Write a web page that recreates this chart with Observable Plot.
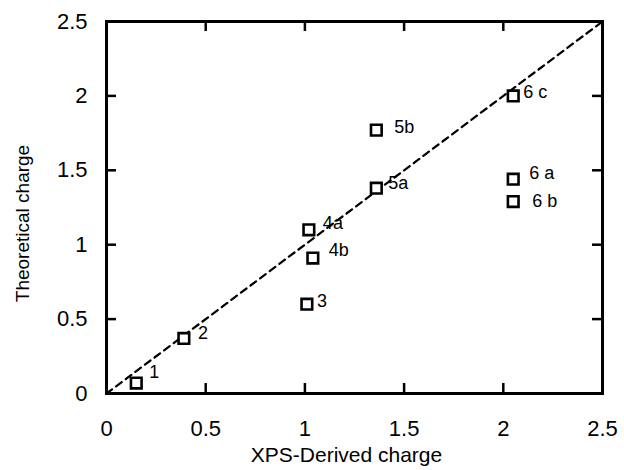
<!DOCTYPE html>
<html>
<head>
<meta charset="utf-8">
<script src="https://cdn.jsdelivr.net/npm/d3@7"></script>
<script src="https://cdn.jsdelivr.net/npm/@observablehq/plot@0.6"></script>
<style>
  html, body { margin: 0; padding: 0; background: #fff; }
  #chart svg { display: block; }
</style>
</head>
<body>
<div id="chart"></div>
<script>
// Data
const labels = ["1", "2", "3", "4a", "4b", "5a", "5b", "6 a", "6 b", "6 c"];
const xpsCharge = [0.15, 0.39, 1.01, 1.02, 1.04, 1.36, 1.36, 2.05, 2.05, 2.05];
const theoCharge = [0.07, 0.37, 0.60, 1.10, 0.91, 1.38, 1.77, 1.44, 1.29, 2.00];
const ticks = [0, 0.5, 1, 1.5, 2, 2.5];
const innerTicks = [0.5, 1, 1.5, 2];
const xTitle = "XPS-Derived charge";
const yTitle = "Theoretical charge";

// Label placement (pixels, relative to marker center) — layout only
const labelOffsets = {
  "1": [13, -11], "2": [14, -5], "3": [10, -3], "4a": [14, -7], "4b": [16, -8],
  "5a": [12, -5], "5b": [18, -3], "6 a": [16, -6], "6 b": [19, 0], "6 c": [10, -4]
};

const points = labels.map((l, i) => ({label: l, x: xpsCharge[i], y: theoCharge[i]}));

const W = 624, H = 470;
const mL = 106, mR = 22, mT = 21, mB = 77;
const fw = W - mL - mR, fh = H - mT - mB;
const tl = 10;
const font = "'Liberation Sans', Arial, Helvetica, sans-serif";

const chart = Plot.plot({
  width: W,
  height: H,
  marginLeft: mL,
  marginRight: mR,
  marginTop: mT,
  marginBottom: mB,
  style: {fontFamily: font, background: "#fff", color: "#000"},
  x: {domain: [0, 2.5], ticks: ticks},
  y: {domain: [0, 2.5], ticks: ticks},
  marks: [
    // diagonal y = x reference
    Plot.line([0, 2.5], {x: d => d, y: d => d, stroke: "#000", strokeWidth: 2.2, strokeDasharray: "7,5"}),
    // inward ticks on all four sides
    Plot.ruleX(innerTicks, {x: d => d, insetTop: fh - tl, stroke: "#000", strokeWidth: 2.5}),
    Plot.ruleX(innerTicks, {x: d => d, insetBottom: fh - tl, stroke: "#000", strokeWidth: 2.5}),
    Plot.ruleY(innerTicks, {y: d => d, insetRight: fw - tl, stroke: "#000", strokeWidth: 2.5}),
    Plot.ruleY(innerTicks, {y: d => d, insetLeft: fw - tl, stroke: "#000", strokeWidth: 2.5}),
    Plot.frame({stroke: "#000", strokeWidth: 3}),
    // tick labels
    Plot.axisX(ticks, {anchor: "bottom", tickSize: 0, tickPadding: 27, fontSize: 22, label: null, tickFormat: d => String(d)}),
    Plot.axisY(ticks, {anchor: "left", tickSize: 0, tickPadding: 19, fontSize: 22, label: null, tickFormat: d => String(d)}),
    // axis titles
    Plot.text([xTitle], {frameAnchor: "bottom", text: d => d, dy: 54, dx: -8, lineAnchor: "top", fontSize: 21, fill: "#000"}),
    Plot.text([yTitle], {frameAnchor: "left", text: d => d, textAnchor: "middle", dx: -84, dy: 16, rotate: -90, fontSize: 19, fill: "#000"}),
    // markers
    Plot.dot(points, {x: "x", y: "y", symbol: "square", r: 6, fill: "#fff", stroke: "#000", strokeWidth: 2.6}),
    // point labels
    ...points.map(p => Plot.text([p], {
      x: "x", y: "y", text: "label",
      dx: labelOffsets[p.label][0], dy: labelOffsets[p.label][1],
      textAnchor: "start", fontSize: 18, fill: "#000"
    }))
  ]
});

document.getElementById("chart").appendChild(chart);
</script>
</body>
</html>
